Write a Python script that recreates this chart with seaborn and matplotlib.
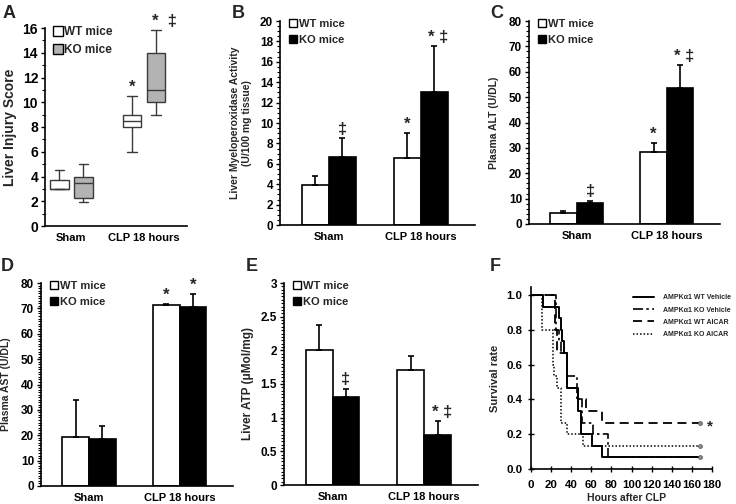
import numpy as np
import pandas as pd
import matplotlib
matplotlib.use("Agg")
import matplotlib.pyplot as plt
import seaborn as sns
from matplotlib.ticker import MultipleLocator, FuncFormatter
from matplotlib.lines import Line2D

# ---------------- data ----------------
groups = ["Sham", "CLP 18 hours"]
mice = ["WT mice", "KO mice"]

# Panel A: liver injury score (min, q1, median, q3, max) per box
a_wt_sham = [3.0, 3.0, 3.0, 3.75, 4.5]
a_ko_sham = [1.9, 2.25, 3.5, 4.0, 5.0]
a_wt_clp = [6.0, 8.0, 8.5, 9.0, 10.5]
a_ko_clp = [9.0, 10.0, 11.0, 14.0, 15.8]

# Panel B: liver MPO activity
b_wt = [3.9, 6.6]
b_wt_err = [0.9, 2.4]
b_ko = [6.7, 13.0]
b_ko_err = [1.8, 4.5]
# Panel C: plasma ALT
c_wt = [4.5, 28.3]
c_wt_err = [0.5, 3.7]
c_ko = [8.3, 53.7]
c_ko_err = [0.9, 8.8]
# Panel D: plasma AST
d_wt = [19.5, 71.2]
d_wt_err = [14.3, 0.6]
d_ko = [18.5, 70.5]
d_ko_err = [5.3, 5.3]
# Panel E: liver ATP
e_wt = [2.0, 1.71]
e_wt_err = [0.38, 0.21]
e_ko = [1.31, 0.75]
e_ko_err = [0.12, 0.20]

# Panel F: survival curves (event time, survival after event)
f_labels = ["AMPK\u03b11 WT Vehicle", "AMPK\u03b11 KO Vehicle",
            "AMPK\u03b11 WT AICAR", "AMPK\u03b11 KO AICAR"]
wtv_t = [0, 12, 28, 30, 31, 33, 36, 47, 50, 61, 71, 168]
wtv_s = [1.0, 0.933, 0.867, 0.8, 0.733, 0.667, 0.467, 0.333, 0.2, 0.133, 0.067, 0.067]
kov_t = [0, 25, 28, 30, 36, 46, 51, 62, 77, 168]
kov_s = [1.0, 0.8, 0.733, 0.667, 0.533, 0.4, 0.267, 0.2, 0.067, 0.067]
wta_t = [0, 24, 26, 36, 47, 55, 71, 168]
wta_s = [1.0, 0.8, 0.667, 0.467, 0.4, 0.333, 0.267, 0.267]
koa_t = [0, 11, 22, 23, 26, 30, 36, 52, 168]
koa_s = [1.0, 0.8, 0.6, 0.533, 0.467, 0.267, 0.2, 0.133, 0.133]

# ---------------- style ----------------
sns.set_style("ticks")
plt.rcParams["font.family"] = ["Liberation Sans", "DejaVu Sans"]
plt.rcParams["font.weight"] = "bold"
plt.rcParams["axes.labelweight"] = "bold"
plt.rcParams["axes.linewidth"] = 1.2
plt.rcParams["axes.edgecolor"] = "black"
plt.rcParams["xtick.color"] = "black"
plt.rcParams["ytick.color"] = "black"

W, H = 736, 504
fig = plt.figure(figsize=(W / 100, H / 100), dpi=100)


def rect(l, r, t, b):
    return [l / W, (H - b) / H, (r - l) / W, (b - t) / H]


def style_axes(ax, ymax, major, minor, xlim=(-0.53, 1.59), ysize=8.5):
    sns.despine(ax=ax)
    ax.set_ylim(0, ymax)
    ax.set_xlim(*xlim)
    ax.yaxis.set_major_locator(MultipleLocator(major))
    ax.yaxis.set_minor_locator(MultipleLocator(minor))
    ax.yaxis.set_major_formatter(FuncFormatter(lambda v, p: f"{v:g}"))
    ax.tick_params(axis="y", which="major", direction="out", length=3,
                   width=1, labelsize=ysize, pad=2)
    ax.tick_params(axis="y", which="minor", direction="out", length=2, width=0.8)
    ax.tick_params(axis="x", length=0, labelsize=8, pad=5)
    for lab in ax.get_xticklabels() + ax.get_yticklabels():
        lab.set_fontweight("bold")
    ax.set_xlabel("")


def legend_squares(ax, ms=6, fs=8, anchor=(0.02, 1.03), ko_color="black",
                   spacing=0.5):
    handles = [
        Line2D([], [], marker="s", linestyle="none", markersize=ms,
               markerfacecolor="white", markeredgecolor="black", markeredgewidth=1),
        Line2D([], [], marker="s", linestyle="none", markersize=ms,
               markerfacecolor=ko_color, markeredgecolor="black", markeredgewidth=1),
    ]
    ax.legend(handles, mice, loc="upper left", bbox_to_anchor=anchor,
              frameon=False, handletextpad=0.1, handlelength=0.9,
              labelspacing=spacing, borderaxespad=0,
              prop={"size": fs, "weight": "bold"})


def bar_panel(ax, wt, wt_err, ko, ko_err, ymax, major, minor, ylabel, lab_x,
              lab_size=7.5):
    df = pd.DataFrame({
        "group": groups * 2,
        "mouse": [mice[0]] * 2 + [mice[1]] * 2,
        "value": wt + ko,
    })
    sns.barplot(data=df, x="group", y="value", hue="mouse", order=groups,
                hue_order=mice, palette={"WT mice": "white", "KO mice": "black"},
                edgecolor="black", linewidth=1.2, width=0.59, errorbar=None,
                legend=False, ax=ax, zorder=2)
    errs = [wt_err, ko_err]
    tops = {}
    bar_conts = list(ax.containers)
    for ci, cont in enumerate(bar_conts):
        xs = [p.get_x() + p.get_width() / 2 for p in cont]
        ys = [p.get_height() for p in cont]
        e = errs[ci]
        ax.errorbar(xs, ys, yerr=[np.zeros(len(e)), e], fmt="none",
                    ecolor="black", elinewidth=1.2, capsize=2.5, capthick=1.2,
                    zorder=3)
        for gi, (x, y) in enumerate(zip(xs, ys)):
            tops[(ci, gi)] = (x, y + e[gi])
    style_axes(ax, ymax, major, minor)
    ax.set_ylabel(ylabel, fontsize=lab_size, fontweight="bold")
    ax.yaxis.set_label_coords(lab_x, 0.5)
    legend_squares(ax)
    return tops


def mark(ax, x, y, txt, dx=0.0, dy=0.0):
    ax.annotate(txt, (x, y), xytext=(dx, dy + 1), textcoords="offset points",
                ha="center", va="bottom", fontsize=12, fontweight="bold",
                annotation_clip=False)


def panel_letter(x, y, s):
    fig.text(x / W, 1 - y / H, s, fontsize=13, fontweight="bold",
             ha="left", va="top")


# ---------------- Panel A ----------------
axA = fig.add_axes(rect(45, 187, 28, 226))
dfA = pd.DataFrame({
    "group": ["Sham"] * 10 + ["CLP 18 hours"] * 10,
    "mouse": [mice[0]] * 5 + [mice[1]] * 5 + [mice[0]] * 5 + [mice[1]] * 5,
    "score": a_wt_sham + a_ko_sham + a_wt_clp + a_ko_clp,
})
sns.boxplot(data=dfA, x="group", y="score", hue="mouse", order=groups,
            hue_order=mice, palette={"WT mice": "white", "KO mice": "#b3b3b3"},
            whis=(0, 100), width=0.66, gap=0.22, linecolor="#3a3a3a",
            linewidth=1.0, legend=False, ax=axA)
style_axes(axA, 16, 2, 1, xlim=(-0.36, 1.59), ysize=10)
axA.set_ylabel("Liver Injury Score", fontsize=10, fontweight="bold")
axA.yaxis.set_label_coords(-0.197, 0.5)
legend_squares(axA, ms=7, fs=8.5, anchor=(0.02, 1.035), ko_color="#b3b3b3",
               spacing=0.55)
mark(axA, 1 - 0.165, a_wt_clp[-1], "*")
mark(axA, 1 + 0.165, a_ko_clp[-1], "*  \u2021", dx=6)

# ---------------- Panel B ----------------
axB = fig.add_axes(rect(280, 475, 21, 225))
tB = bar_panel(axB, b_wt, b_wt_err, b_ko, b_ko_err, 20, 2, 0.5,
               "Liver Myeloperoxidase Activity\n(U/100 mg tissue)", -0.145)
mark(axB, *tB[(1, 0)], "\u2021")
mark(axB, *tB[(0, 1)], "*")
mark(axB, *tB[(1, 1)], "* \u2021", dx=3)

# ---------------- Panel C ----------------
axC = fig.add_axes(rect(529, 720, 21, 224))
tC = bar_panel(axC, c_wt, c_wt_err, c_ko, c_ko_err, 80, 10, 2,
               "Plasma ALT (U/DL)", -0.157)
mark(axC, *tC[(1, 0)], "\u2021")
mark(axC, *tC[(0, 1)], "*")
mark(axC, *tC[(1, 1)], "* \u2021", dx=3)

# ---------------- Panel D ----------------
axD = fig.add_axes(rect(41, 233, 283, 486))
tD = bar_panel(axD, d_wt, d_wt_err, d_ko, d_ko_err, 80, 10, 1,
               "Plasma AST (U/DL)", -0.155)
mark(axD, *tD[(0, 1)], "*")
mark(axD, *tD[(1, 1)], "*")

# ---------------- Panel E ----------------
axE = fig.add_axes(rect(284, 478, 283, 485))
tE = bar_panel(axE, e_wt, e_wt_err, e_ko, e_ko_err, 3, 0.5, 0.05,
               "Liver ATP (\u03bcMol/mg)", -0.155, lab_size=8.5)
mark(axE, *tE[(1, 0)], "\u2021")
mark(axE, *tE[(1, 1)], "* \u2021", dx=3)

# ---------------- Panel F ----------------
axF = fig.add_axes(rect(531, 712, 287, 469))
curves = [(wtv_t, wtv_s, "-", 1.4), (kov_t, kov_s, (0, (6, 2, 1.5, 2)), 1.2),
          (wta_t, wta_s, (0, (5, 3)), 1.3), (koa_t, koa_s, (0, (1, 1.3)), 1.1)]
for (t, s, ls, lw), lab in zip(curves, f_labels):
    sns.lineplot(x=t, y=s, ax=axF, color="black", linestyle=ls, linewidth=lw,
                 drawstyle="steps-post", estimator=None, sort=False, label=lab)
ends_t = [wtv_t[-1], wta_t[-1], koa_t[-1]]
ends_s = [wtv_s[-1], wta_s[-1], koa_s[-1]]
sns.scatterplot(x=ends_t, y=ends_s, ax=axF, color="#888888", s=8,
                edgecolor="#555555", linewidth=0.5, zorder=4, legend=False)
axF.annotate("*", (wta_t[-1], wta_s[-1]), xytext=(5, -6),
             textcoords="offset points", fontsize=11, fontweight="bold",
             annotation_clip=False)
sns.despine(ax=axF)
axF.set_xlim(0, 180)
axF.set_ylim(0, 1.046)
axF.xaxis.set_major_locator(MultipleLocator(20))
axF.set_yticks([0, 0.2, 0.4, 0.6, 0.8, 1.0])
axF.yaxis.set_major_formatter(FuncFormatter(lambda v, p: f"{v:.1f}"))
axF.tick_params(axis="x", direction="inout", length=4, width=1, labelsize=8.2, pad=6)
axF.tick_params(axis="y", direction="inout", length=4, width=1, labelsize=8.2, pad=4)
for lab in axF.get_xticklabels() + axF.get_yticklabels():
    lab.set_fontweight("bold")
axF.set_xlabel("Hours after CLP", fontsize=7.5, fontweight="bold")
axF.xaxis.set_label_coords(0.53, -0.13)
axF.xaxis.label.set_va("top")
axF.set_ylabel("Survival rate", fontsize=8, fontweight="bold")
axF.yaxis.set_label_coords(-0.17, 0.5)
axF.legend(loc="upper right", bbox_to_anchor=(1.12, 0.975), frameon=False,
           handlelength=3.0, handletextpad=1.3, labelspacing=0.75,
           borderaxespad=0, prop={"size": 5.0, "weight": "bold"})

# ---------------- panel letters ----------------
panel_letter(3, 5, "A")
panel_letter(232, 5, "B")
panel_letter(490, 5, "C")
panel_letter(1, 258, "D")
panel_letter(246, 258, "E")
panel_letter(490, 258, "F")

fig.savefig("out.png", dpi=100)
